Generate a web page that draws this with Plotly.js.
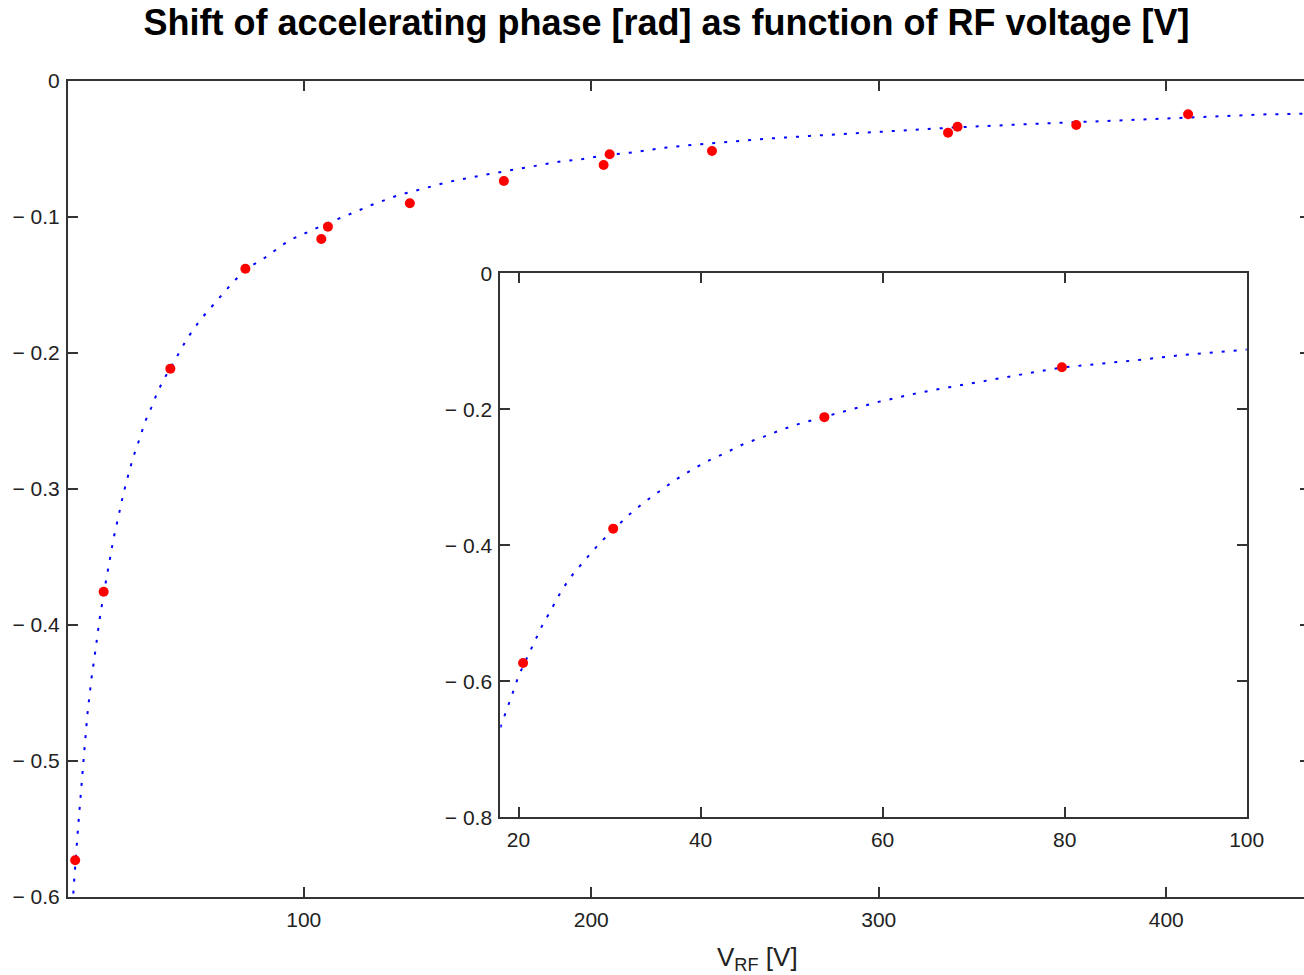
<!DOCTYPE html>
<html>
<head>
<meta charset="utf-8">
<script src="https://cdn.plot.ly/plotly-3.0.1.min.js"></script>
<style>
html,body{margin:0;padding:0;overflow:hidden;background:#fff;}
#chart{width:1312px;height:975px;}
</style>
</head>
<body>
<div id="chart"></div>
<script>
// Measured points: RF voltage [V] and phase shift [rad]
const measV   = [20.5, 30.4, 53.6, 79.7, 106.1, 108.4, 136.9, 169.6, 204.3, 206.4, 242.0, 324.1, 327.4, 368.7, 407.6];
const measPhi = [-0.573, -0.3755, -0.2115, -0.1380, -0.1162, -0.1071, -0.0899, -0.0735, -0.0618, -0.0539, -0.0515, -0.0380, -0.0336, -0.0324, -0.0245];

// Fitted curve (dotted)
const curveV   = [18.0, 18.4, 18.8, 19.3, 19.6, 20.0, 21.5, 22.5, 23.7, 24.8, 26.1, 27.6, 28.9, 30.5, 32.2, 33.8, 35.5, 37.2, 39.0, 40.7, 42.9, 44.9, 46.9, 48.9, 50.9, 53.8, 56.2, 59.4, 64.0, 67.3, 70.8, 74.3, 77.9, 79.7, 82.6, 85.1, 88.8, 92.6, 96.4, 98.8, 100.3, 109.0, 115.4, 123.3, 133.1, 143.5, 150.8, 158.9, 169.9, 178.3, 189.4, 197.1, 205.3, 213.4, 228.4, 243.7, 259.7, 276.0, 292.6, 308.4, 325.1, 344.4, 365.3, 389.6, 410.5, 434.8, 450.0];
const curvePhi = [-0.668, -0.6535, -0.638, -0.6216, -0.608, -0.592, -0.549, -0.5206, -0.4918, -0.4647, -0.4403, -0.4176, -0.397, -0.376, -0.3544, -0.3368, -0.3206, -0.304, -0.2893, -0.2765, -0.2630, -0.2500, -0.2405, -0.2300, -0.2210, -0.2109, -0.2015, -0.1895, -0.1756, -0.1676, -0.1590, -0.1505, -0.1425, -0.1385, -0.1349, -0.1320, -0.1265, -0.1205, -0.1158, -0.1135, -0.1118, -0.1039, -0.0985, -0.0914, -0.0838, -0.0782, -0.0740, -0.0706, -0.0662, -0.0632, -0.0592, -0.0574, -0.0544, -0.0527, -0.0483, -0.0454, -0.0426, -0.0404, -0.0382, -0.0365, -0.0343, -0.0324, -0.0306, -0.0282, -0.0262, -0.0245, -0.0240];

// Tick labels
const mainXTicks = [100, 200, 300, 400];
const mainYTicks = [0, -0.1, -0.2, -0.3, -0.4, -0.5, -0.6];
const mainYTickText = ['0', '\u2212 0.1', '\u2212 0.2', '\u2212 0.3', '\u2212 0.4', '\u2212 0.5', '\u2212 0.6'];
const insetXTicks = [20, 40, 60, 80, 100];
const insetYTicks = [0, -0.2, -0.4, -0.6, -0.8];
const insetYTickText = ['0', '\u2212 0.2', '\u2212 0.4', '\u2212 0.6', '\u2212 0.8'];

const titleText = 'Shift of accelerating phase [rad] as function of RF voltage [V]';
const xTitleText = 'V<sub>RF</sub> [V]';

const curveLine = {color: '#0000ff', width: 2, dash: '3px,9px'};
const dotMarker = {color: '#ff0000', size: 10, line: {width: 0}};

const traces = [
  {x: curveV, y: curvePhi, xaxis: 'x', yaxis: 'y', mode: 'lines', line: curveLine, hoverinfo: 'skip'},
  {x: measV, y: measPhi, xaxis: 'x', yaxis: 'y', mode: 'markers', marker: dotMarker},
  {x: curveV, y: curvePhi, xaxis: 'x2', yaxis: 'y2', mode: 'lines', line: curveLine, hoverinfo: 'skip'},
  {x: measV, y: measPhi, xaxis: 'x2', yaxis: 'y2', mode: 'markers', marker: dotMarker}
];

const tickFont = {family: 'Liberation Sans, Arial, sans-serif', size: 21, color: '#222'};
const axisBase = {
  showline: true, linecolor: '#333', linewidth: 2, mirror: 'ticks',
  ticks: 'inside', ticklen: 10, tickwidth: 2, tickcolor: '#333',
  showgrid: false, zeroline: false, tickfont: tickFont, fixedrange: true
};

const layout = {
  width: 1312, height: 975,
  margin: {l: 68, r: 2, t: 81, b: 78},
  paper_bgcolor: '#fff', plot_bgcolor: '#fff',
  showlegend: false,
  title: {
    text: '<b>' + titleText + '</b>',
    font: {family: 'Liberation Sans, Arial, sans-serif', size: 36, color: '#000'},
    xref: 'paper', x: 0.4819, xanchor: 'center',
    yref: 'container', y: 0.977, yanchor: 'middle'
  },
  xaxis: Object.assign({}, axisBase, {range: [18, 450], tickvals: mainXTicks, ticktext: mainXTicks.map(String), ticklabelstandoff: 3}),
  yaxis: Object.assign({}, axisBase, {range: [-0.6, 0], tickvals: mainYTicks, ticktext: mainYTickText, ticklabelstandoff: 2}),
  xaxis2: Object.assign({}, axisBase, {domain: [0.3481, 0.9490], anchor: 'y2', range: [18, 100], tickvals: insetXTicks, ticktext: insetXTicks.map(String), ticklabelstandoff: 3}),
  yaxis2: Object.assign({}, axisBase, {domain: [0.0977, 0.7643], anchor: 'x2', range: [-0.8, 0], tickvals: insetYTicks, ticktext: insetYTickText, ticklabelstandoff: 2}),
  annotations: [{
    text: xTitleText, xref: 'paper', yref: 'paper', x: 0.5548, y: -0.0748,
    xanchor: 'center', yanchor: 'middle', showarrow: false,
    font: {family: 'Liberation Sans, Arial, sans-serif', size: 26, color: '#222'}
  }]
};

Plotly.newPlot('chart', traces, layout, {displayModeBar: false, staticPlot: true});
</script>
</body>
</html>
